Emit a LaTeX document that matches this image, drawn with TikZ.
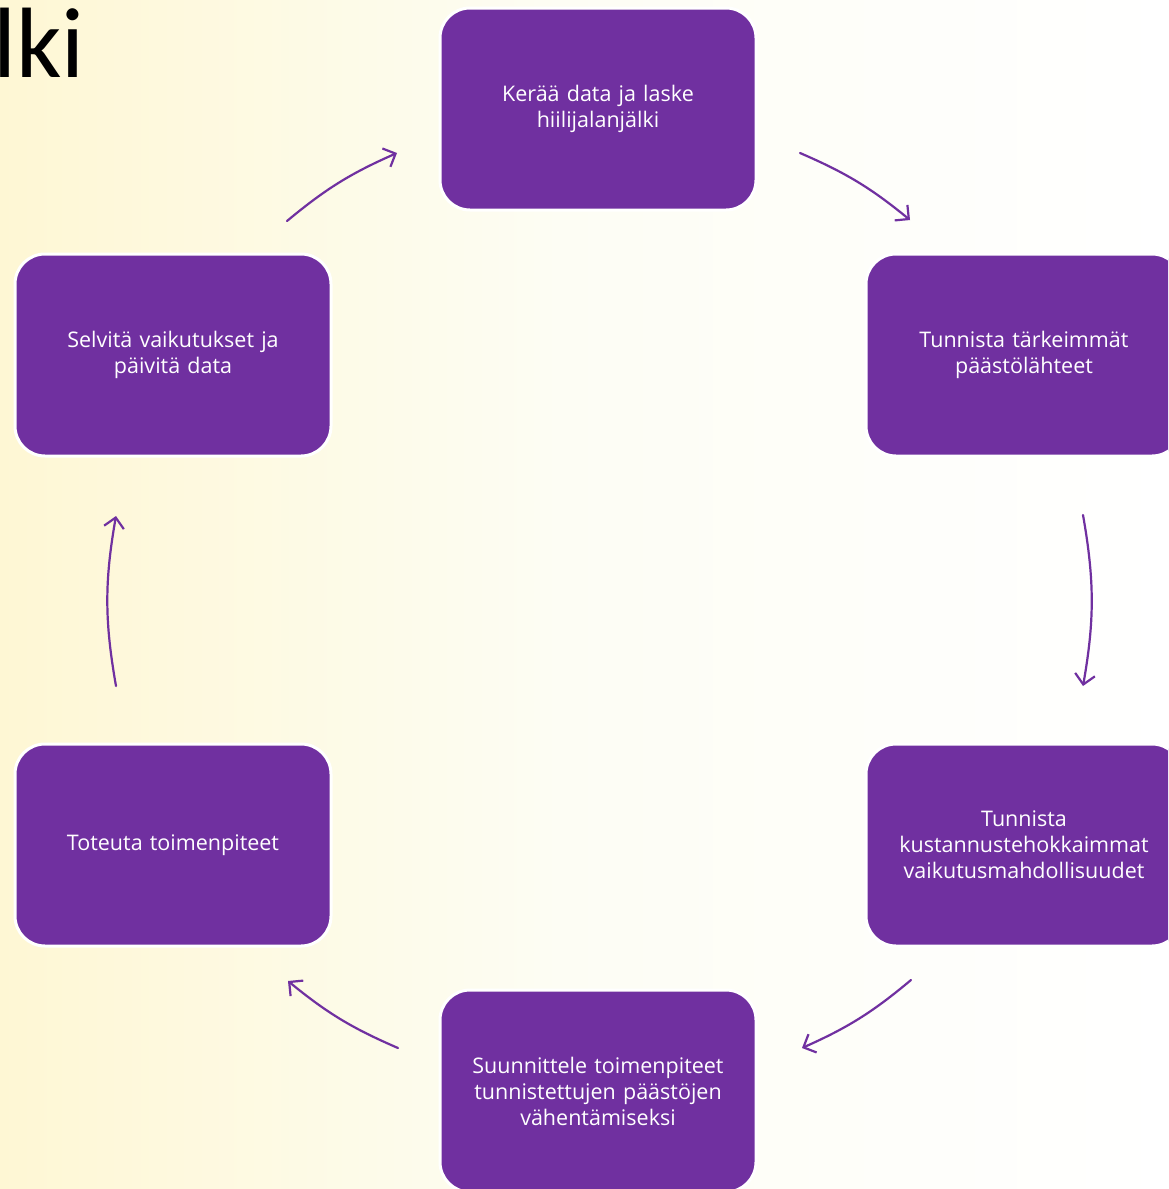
\documentclass[tikz,border=0pt]{standalone}
\usepackage{fontspec}
\setmainfont{Open Sans}
\newfontfamily\titlefont{Carlito}
\usetikzlibrary{positioning,arrows.meta}
\definecolor{stepviolet}{HTML}{7030A0}
\definecolor{bgcream}{HTML}{FEF7D4}
\definecolor{bgpale}{HTML}{FDFDF4}

\begin{document}
\begin{tikzpicture}[x=1pt, y=-1pt, line join=round, line cap=round,
	stepbox/.style={rectangle, rounded corners=30pt, fill=stepviolet, draw=white, line width=3pt,
		minimum width=316pt, minimum height=202pt, text width=300pt, align=center, text=white,
		font=\fontsize{21.5}{26}\selectfont},
	cyclearrow/.style={draw=stepviolet, line width=2.2pt, -{Straight Barb[length=10pt,width=20pt,line width=2.2pt]}}]
		\useasboundingbox (0,0) rectangle (1168,1189);
		\clip (0,0) rectangle (1168,1189);
		\fill[white] (0,0) rectangle (1168,1189);
		\shade[left color=bgcream, right color=bgpale] (0,0) rectangle (560,1189);
		\shade[left color=bgpale, right color=white] (560,0) rectangle (1168,1189);
		\node[anchor=base west, inner sep=0, font=\titlefont\fontsize{100}{100}\selectfont] (title) at (-7,77) {lki};
		
		\node[stepbox] (collect) at (598,109) {Kerää data ja laske\\hiilijalanjälki};
		\node[stepbox] (identify) at (1024,355) {Tunnista tärkeimmät\\päästölähteet};
		\node[stepbox] (costeff) at (1024,845) {Tunnista\\kustannustehokkaimmat\\vaikutusmahdollisuudet};
		\node[stepbox] (plan) at (598,1091) {Suunnittele toimenpiteet\\tunnistettujen päästöjen\\vähentämiseksi};
		\node[stepbox] (implement) at (173,845) {Toteuta toimenpiteet};
		\node[stepbox] (review) at (173,355) {Selvitä vaikutukset ja\\päivitä data};
		
		\coordinate (a1) at (800,153); \coordinate (a2) at (910,220);
		\coordinate (b1) at (1083,515); \coordinate (b2) at (1083,686);
		\coordinate (c1) at (911,980); \coordinate (c2) at (802,1048);
		\coordinate (d1) at (398,1048); \coordinate (d2) at (288,981);
		\coordinate (e1) at (116,686); \coordinate (e2) at (116,516);
		\coordinate (f1) at (287,221); \coordinate (f2) at (397,153);
		\draw[cyclearrow] (a1) to[bend left=8] (a2);
		\draw[cyclearrow] (b1) to[bend left=10] (b2);
		\draw[cyclearrow] (c1) to[bend left=8] (c2);
		\draw[cyclearrow] (d1) to[bend left=8] (d2);
		\draw[cyclearrow] (e1) to[bend left=10] (e2);
		\draw[cyclearrow] (f1) to[bend left=8] (f2);
		
\end{tikzpicture}
\end{document}
